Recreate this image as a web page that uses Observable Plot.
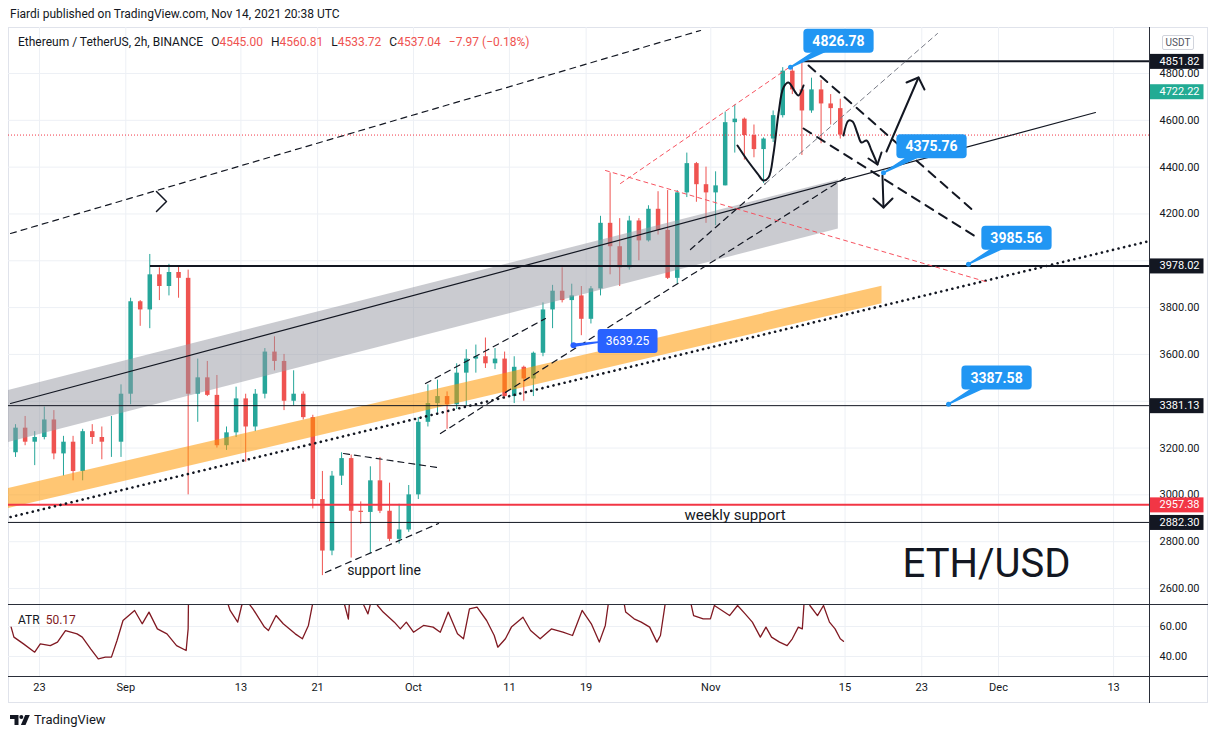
<!DOCTYPE html>
<html>
<head>
<meta charset="utf-8">
<script src="https://cdn.jsdelivr.net/npm/d3@7"></script>
<script src="https://cdn.jsdelivr.net/npm/@observablehq/plot@0.6"></script>
<style>
  html, body { margin: 0; padding: 0; background: #fff; }
  body { width: 1217px; height: 739px; position: relative; overflow: hidden; font-family: Roboto, "Liberation Sans", sans-serif; color: #131722; }
  .abs { position: absolute; }
  #hdr { left: 10px; top: 6px; font-size: 12px; line-height: 16px; white-space: nowrap; }
  #frame { left: 8px; top: 27px; width: 1200px; height: 676px; box-sizing: border-box; border: 1px solid #e0e3eb; }
  #price { left: 8px; top: 27px; }
  #atr { left: 8px; top: 604px; }
  .sep { background: #2a2e39; }
  #legend { left: 18px; top: 34px; font-size: 12px; line-height: 16px; white-space: nowrap; color: #131722; }
  #legend .v { color: #ef5350; }
  #legend .g { margin-left: 8px; }
  #atrlab { left: 18px; top: 612px; font-size: 12px; line-height: 16px; white-space: nowrap; }
  #atrlab .v { color: #801922; margin-left: 6px; }
  #usdt { left: 1162px; top: 35px; width: 32px; height: 15px; border: 1px solid #d1d4dc; border-radius: 2px; font-size: 10px; line-height: 13px; text-align: center; color: #50535e; box-sizing: border-box; background: #fff; }
  #footer { left: 10px; top: 712px; font-size: 13px; line-height: 16px; display: flex; align-items: center; gap: 4px; color: #131722; }
</style>
</head>
<body>
<div id="frame" class="abs"></div>
<div id="hdr" class="abs"></div>
<div id="price" class="abs"></div>
<div id="atr" class="abs"></div>
<div class="abs sep" style="left:1149px;top:27px;width:1px;height:676px"></div>
<div class="abs sep" style="left:8px;top:604px;width:1200px;height:1px"></div>
<div class="abs sep" style="left:8px;top:676px;width:1200px;height:1px"></div>
<div id="legend" class="abs"></div>
<div id="atrlab" class="abs"></div>
<div id="usdt" class="abs">USDT</div>
<div id="footer" class="abs"><svg width="20" height="12" viewBox="0 0 20 12"><path d="M0 1h8.5v10h-4V5H0z" fill="#131722"/><circle cx="11.3" cy="3" r="2" fill="#131722"/><path d="M15.2 1h4.6l-4.3 10h-4.6z" fill="#131722"/></svg><span>TradingView</span></div>
<script>
// ---------- texts ----------
const publishLine = "Fiardi published on TradingView.com, Nov 14, 2021 20:38 UTC";
const symbolLine = "Ethereum / TetherUS, 2h, BINANCE";
const ohlcKeys = ["O", "H", "L", "C"];
const ohlcVals = [4545.00, 4560.81, 4533.72, 4537.04];
const lastChange = -7.97, lastChangePct = -0.18;
const atrName = "ATR", atrLast = 50.17;

// ---------- time axis ----------
const dateTicks = ["2021-08-23","2021-09-01","2021-09-13","2021-09-21","2021-10-01","2021-10-11","2021-10-19","2021-11-01","2021-11-15","2021-11-23","2021-12-01","2021-12-13"];
const dateTickLabels = ["23","Sep","13","21","Oct","11","19","Nov","15","23","Dec","13"];
const priceGrid = [2600, 2800, 3000, 3200, 3400, 3600, 3800, 4000, 4200, 4400, 4600, 4800];
const priceTickLabels = [2600, 2800, 3000, 3200, 3600, 3800, 4200, 4400, 4600, 4800]; // 3400 and 4000 sit under the line tags
const atrTicks = [40, 60];

// ---------- daily OHLC (ETH/USDT) from Aug 20 to Nov 14 ----------
const candleStart = "2021-08-20", candleEnd = "2021-11-15";
const opens = [3180,3285,3225,3245,3320,3175,3225,3100,3270,3245,3225,3225,
  3430,3825,3790,3940,3890,3950,3925,3430,3500,3425,3210,3265,3410,3290,3430,3610,3570,3400,3430,3330,2980,2760,3080,3155,2930,2925,3060,2930,2810,2850,
  3000,3310,3390,3420,3385,3520,3580,3590,3560,3580,3420,3545,3495,3605,3790,3870,3830,3850,3750,3880,4160,4060,3970,4170,4085,4220,4130,3925,4290,4415,4325,
  4290,4320,4590,4605,4535,4475,4520,4620,4810,4730,4640,4730,4670,4650];
const highs = [3300,3335,3270,3375,3360,3250,3250,3280,3300,3290,3335,3470,
  3840,3830,4027,3970,3985,3975,3960,3580,3570,3510,3290,3460,3430,3450,3625,3675,3600,3530,3440,3340,3100,3100,3180,3170,2970,3120,3160,3050,2960,3040,
  3330,3470,3490,3440,3560,3620,3640,3670,3625,3610,3590,3550,3610,3820,3895,3970,3900,3890,3890,4190,4375,4180,4190,4180,4235,4295,4300,4300,4460,4420,4400,
  4380,4635,4665,4610,4580,4525,4640,4825,4827,4852,4780,4770,4710,4690];
const lows = [3160,3210,3125,3235,3150,3080,3060,3060,3215,3150,3160,3160,
  3385,3720,3710,3830,3850,3840,3000,3310,3420,3200,3190,3245,3140,3270,3410,3530,3360,3380,3320,2940,2655,2740,3040,2730,2875,2750,2920,2800,2790,2840,
  2980,3290,3350,3280,3365,3380,3520,3540,3535,3410,3390,3400,3420,3590,3710,3820,3640,3680,3730,3850,3940,3890,3960,4000,4080,4110,3920,3900,4270,4250,4160,
  4150,4320,4460,4430,4440,4330,4505,4610,4710,4450,4630,4500,4580,4520];
const closes = [3285,3225,3245,3320,3175,3225,3100,3270,3245,3225,3225,3430,
  3825,3790,3940,3890,3950,3925,3430,3500,3425,3210,3265,3410,3290,3430,3610,3570,3400,3430,3330,2980,2760,3080,3155,2930,2925,3060,2930,2810,2850,3000,
  3310,3390,3420,3385,3520,3580,3590,3560,3580,3420,3545,3495,3605,3790,3870,3830,3850,3750,3880,4160,4060,3970,4170,4085,4220,4130,3925,4290,4415,4325,4290,
  4320,4590,4605,4535,4475,4520,4620,4810,4730,4640,4730,4670,4650,4537.04];

// ---------- ATR(2h) ----------
const atrSeries = [
 ["2021-08-20T01:00Z",59.6],["2021-08-20T08:00Z",52.9],["2021-08-21T08:00Z",48.4],["2021-08-22T12:00Z",42.9],["2021-08-23T02:00Z",48.4],
 ["2021-08-24T03:00Z",47.3],["2021-08-24T21:00Z",49.6],["2021-08-25T17:00Z",57.3],["2021-08-26T22:00Z",55.1],["2021-08-27T11:00Z",52.9],
 ["2021-08-28T08:00Z",45.1],["2021-08-29T03:00Z",38.4],["2021-08-29T21:00Z",39.6],["2021-08-30T12:00Z",39.6],["2021-08-31T02:00Z",50.7],
 ["2021-08-31T17:00Z",64],["2021-09-01T22:00Z",70.7],["2021-09-02T17:00Z",61.8],["2021-09-03T10:00Z",69.6],["2021-09-04T07:00Z",58.4],
 ["2021-09-05T07:00Z",55.1],["2021-09-06T07:00Z",47.3],["2021-09-07T07:00Z",44],["2021-09-07T12:00Z",58.4],["2021-09-07T16:00Z",150],
 ["2021-09-08T12:00Z",125],["2021-09-09T12:00Z",100],["2021-09-10T12:00Z",85],["2021-09-11T12:00Z",78],["2021-09-11T21:00Z",70.7],
 ["2021-09-12T16:00Z",62.9],["2021-09-13T02:00Z",74],["2021-09-13T12:00Z",78],["2021-09-14T06:00Z",71.8],["2021-09-15T11:00Z",59.6],
 ["2021-09-15T21:00Z",57.3],["2021-09-16T16:00Z",67.3],["2021-09-17T10:00Z",61.8],["2021-09-18T16:00Z",55.1],["2021-09-19T10:00Z",51.8],
 ["2021-09-20T01:00Z",60.7],["2021-09-20T11:00Z",74.4],["2021-09-20T20:00Z",105],["2021-09-21T12:00Z",130],["2021-09-22T04:00Z",115],
 ["2021-09-22T20:00Z",95],["2021-09-23T12:00Z",82],["2021-09-23T20:00Z",74],["2021-09-24T05:00Z",65],["2021-09-24T10:00Z",85],
 ["2021-09-24T20:00Z",95],["2021-09-25T08:00Z",85],["2021-09-25T20:00Z",74],["2021-09-26T06:00Z",68.4],["2021-09-26T17:00Z",80],
 ["2021-09-27T06:00Z",74],["2021-09-27T20:00Z",69.6],["2021-09-29T00:00Z",62.9],["2021-09-29T15:00Z",58.4],["2021-09-30T06:00Z",62.9],
 ["2021-10-01T00:00Z",56.2],["2021-10-02T01:00Z",60.7],["2021-10-03T01:00Z",59.6],["2021-10-03T19:00Z",56.2],["2021-10-04T15:00Z",69.6],
 ["2021-10-05T14:00Z",55.1],["2021-10-06T05:00Z",51.8],["2021-10-06T20:00Z",71.8],["2021-10-07T15:00Z",72.9],["2021-10-08T15:00Z",64],
 ["2021-10-09T10:00Z",54],["2021-10-09T19:00Z",46.2],["2021-10-10T14:00Z",51.8],["2021-10-11T05:00Z",59.6],["2021-10-12T10:00Z",66.2],
 ["2021-10-13T05:00Z",57.3],["2021-10-14T05:00Z",51.8],["2021-10-15T09:00Z",58.4],["2021-10-16T14:00Z",56.2],["2021-10-17T14:00Z",54],
 ["2021-10-18T14:00Z",70.7],["2021-10-19T13:00Z",61.8],["2021-10-20T09:00Z",49.6],["2021-10-21T00:00Z",60.7],["2021-10-21T10:00Z",80],
 ["2021-10-21T20:00Z",110],["2021-10-22T08:00Z",95],["2021-10-22T20:00Z",80],["2021-10-23T03:00Z",69.6],["2021-10-24T00:00Z",65.1],
 ["2021-10-24T18:00Z",62.9],["2021-10-25T15:00Z",59.6],["2021-10-26T09:00Z",49.6],["2021-10-26T18:00Z",54],["2021-10-27T04:00Z",71.8],
 ["2021-10-27T14:00Z",90],["2021-10-28T04:00Z",100],["2021-10-28T16:00Z",95],["2021-10-29T06:00Z",85],["2021-10-29T20:00Z",78],
 ["2021-10-30T05:00Z",67.3],["2021-10-31T05:00Z",65.1],["2021-10-31T23:00Z",65.1],["2021-11-01T09:00Z",74],["2021-11-02T04:00Z",70.7],
 ["2021-11-02T23:00Z",67.3],["2021-11-03T19:00Z",74],["2021-11-04T14:00Z",68.4],["2021-11-05T08:00Z",62.9],["2021-11-06T04:00Z",52.9],
 ["2021-11-06T18:00Z",59.6],["2021-11-07T08:00Z",52.9],["2021-11-08T04:00Z",49.6],["2021-11-08T23:00Z",47.3],["2021-11-09T12:00Z",51.8],
 ["2021-11-10T03:00Z",59.6],["2021-11-10T13:00Z",58.4],["2021-11-10T18:00Z",78],["2021-11-11T00:00Z",85],["2021-11-11T08:00Z",74],
 ["2021-11-12T03:00Z",67.3],["2021-11-12T18:00Z",74],["2021-11-13T09:00Z",62.9],["2021-11-13T23:00Z",58.4],["2021-11-14T12:00Z",51.8],
 ["2021-11-14T20:00Z",50.17]
];

// ---------- drawings: [days since 2021-08-23 00:00 UTC, price] ----------
const upperTrend = [[-3.02, 4116.5], [68.93, 4983.7]];
const chevron = [[12.20, 4295.9], [13.24, 4253.2], [12.20, 4210.5]];
const midTrend = [[-3.02, 3390.3], [110.11, 4633.4]];
const dottedTrend = [[-3.02, 2905.4], [115.75, 4084.5]];
const greyBand = [[-3.3, 3223.0, 3445.1], [83.3, 4135.5, 4345.0]];     // [day, lower, upper]
const orangeBand = [[-3.3, 2941.1, 3026.6], [87.85, 3815.9, 3891.5]];
const octChannelTop = [[40.25, 3475.7], [52.76, 3753.4]];
const octChannelBottom = [[41.81, 3262.1], [84.05, 4355.7]];
const novSupportA = [[67.88, 4048.1], [75.70, 4330.1]];
const novSupportB = [[75.70, 4330.1], [93.64, 4970.9]];
const redFall = [[59.02, 4385.6], [98.64, 3911.4]];
const redRise = [[60.58, 4330.1], [78.31, 4829.9]];
const fallTop = [[80.19, 4834.2], [97.60, 4206.2]];
const fallBottom = [[79.67, 4565.0], [97.60, 4103.7]];
const wedgeTop = [[31.70, 3176.7], [41.50, 3116.9]];
const wedgeBottom = [[29.82, 2668.3], [41.61, 2877.6]];
const brushPeak = [[72.78,4492.4],[73.83,4428.3],[74.87,4372.8],[75.49,4342.9],[76.02,4355.7],[76.54,4458.2],[77.06,4629.1],[77.58,4740.2],[78.10,4761.6],[78.83,4718.8],[79.14,4706.0],[79.67,4748.7]];
const brushPath = [[83.84,4535.1],[84.36,4599.2],[84.78,4594.9],[85.30,4543.7],[85.71,4505.2],[86.24,4513.8],[86.76,4471.1],[87.38,4411.3]];
const brushPathHead = [[86.44,4436.9],[87.38,4411.3],[87.80,4462.5]];
const arrowUp = [[88.32,4466.8],[91.66,4782.9]];
const arrowUpHead = [[90.41,4761.6],[91.66,4782.9],[92.28,4731.7]];
const arrowDown = [[87.90,4364.3],[88.01,4227.6]];
const arrowDownHead = [[86.96,4266.0],[88.01,4227.6],[88.95,4266.0]];

// horizontal levels
const thickLevels = [{price: 4851.82, start: 79.56}, {price: 3978.02, start: 11.57}];
const thinLevels = [3381.13, 2882.30];
const supportLevel = 2957.38;
const lastClose = 4537.04;

// price notes (callouts)
const calloutDays = [78.31, 88.01, 96.87, 94.79];
const calloutPrices = [4826.78, 4375.76, 3985.56, 3387.58];
const markerDay = 55.68, markerPrice = 3639.25;

// text notes
const notes = [
  {text: "support line", day: 32.08, price: 2675},
  {text: "weekly support", day: 67.26, price: 2913},
  {text: "ETH/USD", day: 89.99, price: 2703}
];

// right-axis tags
const tagPrices = [4851.82, 4722.22, 3978.02, 3381.13, 2957.38, 2882.30];
const tagKinds = ["level", "indicator", "level", "level", "support", "level"];

// ---------- styles ----------
const INK = "#131722", UP = "#26a69a", DOWN = "#ef5350", BLUE = "#2196f3", DARKBLUE = "#2962ff";
const GRID = "#edf0f5", RED = "#f23645", ATRC = "#801922";
const tagColor = {level: "#131722", indicator: "#22ab94", support: "#f23645"};

// ---------- helpers ----------
const DAY = 864e5;
const T0 = Date.UTC(2021, 7, 23);
const dayToDate = d => new Date(T0 + d * DAY);
const xMin = dayToDate(-3.2326), xMax = dayToDate(115.7456);
const tickDates = dateTicks.map(s => new Date(s + "T00:00Z"));
const tickLabelMap = new Map(tickDates.map((d, i) => [+d, dateTickLabels[i]]));

const candleDays = d3.utcDays(new Date(candleStart + "T00:00Z"), new Date(candleEnd + "T00:00Z"));
const candles = candleDays.map((day, i) => ({
  mid: new Date(+day + DAY / 2), o: opens[i], h: highs[i], l: lows[i], c: closes[i],
  col: closes[i] >= opens[i] ? UP : DOWN
}));
const callouts = calloutDays.map((d, i) => ({date: dayToDate(d), price: calloutPrices[i]}));
const marker = [{date: dayToDate(markerDay), price: markerPrice}];
const atrData = atrSeries.map(([t, v]) => ({t: new Date(t), v}));

const L = (data, o) => Plot.line(data, {x: d => dayToDate(d[0]), y: d => d[1], clip: true, ...o});
const dash = {stroke: INK, strokeWidth: 1.2, strokeDasharray: "6 5"};
const brush = {stroke: INK, strokeWidth: 2, strokeLinecap: "round", strokeLinejoin: "round"};
const fmt2 = d => d.toFixed(2);

// ---------- HTML texts ----------
document.getElementById("hdr").textContent = publishLine;
const minus = v => (v < 0 ? "\u2212" : "") + Math.abs(v).toFixed(2);
document.getElementById("legend").innerHTML = symbolLine +
  ohlcKeys.map((k, i) => `<span class="g">${k}</span><span class="v">${ohlcVals[i].toFixed(2)}</span>`).join("") +
  `<span class="g v">${minus(lastChange)} (${minus(lastChangePct)}%)</span>`;
document.getElementById("atrlab").innerHTML = `${atrName}<span class="v">${atrLast.toFixed(2)}</span>`;

// ---------- price pane ----------
const price = Plot.plot({
  width: 1200, height: 577,
  marginLeft: 0, marginRight: 59, marginTop: 0, marginBottom: 0,
  x: {type: "utc", domain: [xMin, xMax], axis: null},
  y: {domain: [2531.7, 4996.5]},
  color: {type: "identity"},
  style: {background: "transparent", fontFamily: "Roboto, sans-serif", fontSize: "11px", color: INK, overflow: "visible"},
  marks: [
    Plot.gridY({ticks: priceGrid, stroke: GRID, strokeOpacity: 1}),
    Plot.gridX({ticks: tickDates, stroke: GRID, strokeOpacity: 1}),
    Plot.ruleX(candles, {x: "mid", y1: "l", y2: "h", stroke: "col", strokeWidth: 1, clip: true}),
    Plot.ruleX(candles, {x: "mid", y1: "o", y2: "c", stroke: "col", strokeWidth: 4.5, clip: true}),
    Plot.areaY(greyBand, {x: d => dayToDate(d[0]), y1: d => d[1], y2: d => d[2], fill: "#9598a1", fillOpacity: 0.5, clip: true}),
    Plot.areaY(orangeBand, {x: d => dayToDate(d[0]), y1: d => d[1], y2: d => d[2], fill: "#ff9800", fillOpacity: 0.55, clip: true}),
    Plot.ruleY(thinLevels, {stroke: INK, strokeWidth: 1}),
    Plot.ruleY([supportLevel], {stroke: RED, strokeWidth: 2}),
    Plot.ruleY([lastClose], {stroke: RED, strokeWidth: 1, strokeDasharray: "1 2"}),
    Plot.ruleY(thickLevels, {y: "price", x1: d => dayToDate(d.start), x2: () => xMax, stroke: INK, strokeWidth: 2}),
    L(upperTrend, dash),
    L(chevron, {stroke: INK, strokeWidth: 1.5}),
    L(midTrend, {stroke: INK, strokeWidth: 1.2}),
    L(dottedTrend, {stroke: INK, strokeWidth: 2.6, strokeDasharray: "0.1 5.6", strokeLinecap: "round"}),
    L(octChannelTop, dash),
    L(octChannelBottom, dash),
    L(novSupportA, dash),
    L(novSupportB, {stroke: "#787b86", strokeWidth: 1, strokeDasharray: "5 4"}),
    L(redFall, {stroke: "#f7525f", strokeWidth: 1, strokeDasharray: "4 4"}),
    L(redRise, {stroke: "#f7525f", strokeWidth: 1, strokeDasharray: "4 4"}),
    L(fallTop, {stroke: INK, strokeWidth: 2, strokeDasharray: "9 7"}),
    L(fallBottom, {stroke: INK, strokeWidth: 2, strokeDasharray: "9 7"}),
    L(wedgeTop, dash),
    L(wedgeBottom, dash),
    L(brushPeak, {...brush, curve: "catmull-rom"}),
    L(brushPath, {...brush, curve: "catmull-rom"}),
    L(brushPathHead, brush),
    L(arrowUp, brush),
    L(arrowUpHead, brush),
    L(arrowDown, brush),
    L(arrowDownHead, brush),
    Plot.text([notes[0]], {x: d => dayToDate(d.day), y: "price", text: "text", textAnchor: "start", fontSize: 14, fill: INK}),
    Plot.text([notes[1]], {x: d => dayToDate(d.day), y: "price", text: "text", textAnchor: "start", fontSize: 15, fill: INK}),
    Plot.text([notes[2]], {x: d => dayToDate(d.day), y: "price", text: "text", textAnchor: "start", fontSize: 40, fill: INK}),
    Plot.vector(callouts, {x: "date", y: "price", rotate: 241, length: 40, anchor: "end", shape: "spike", r: 3, fill: BLUE, stroke: BLUE}),
    Plot.dot(callouts, {x: "date", y: "price", r: 2.5, fill: BLUE}),
    Plot.text(callouts, {x: "date", y: "price", text: d => fmt2(d.price), dx: 48, dy: -26, fill: "white", fontSize: 14, fontWeight: "bold", ariaDescription: "callout"}),
    Plot.vector(marker, {x: "date", y: "price", rotate: 83, length: 28, anchor: "start", shape: "spike", r: 1, fill: DARKBLUE, stroke: DARKBLUE}),
    Plot.dot(marker, {x: "date", y: "price", r: 3, fill: DARKBLUE}),
    Plot.text(marker, {x: "date", y: "price", text: d => fmt2(d.price), dx: 54, dy: -4, fill: "white", fontSize: 12, ariaDescription: "marker"}),
    Plot.axisY({anchor: "right", ticks: priceTickLabels, tickSize: 0, tickPadding: 10, tickFormat: fmt2, fill: INK, fontSize: 11, label: null}),
    Plot.text(tagPrices, {y: d => d, text: d => fmt2(d), frameAnchor: "right", dx: 10, textAnchor: "start", fill: "white", fontSize: 11, ariaDescription: "tag"})
  ]
});
document.getElementById("price").append(price);

// ---------- ATR pane with date axis ----------
const atr = Plot.plot({
  width: 1200, height: 99,
  marginLeft: 0, marginRight: 59, marginTop: 0, marginBottom: 27,
  x: {type: "utc", domain: [xMin, xMax]},
  y: {domain: [26.667, 74.667]},
  style: {background: "transparent", fontFamily: "Roboto, sans-serif", fontSize: "11px", color: INK, overflow: "visible"},
  marks: [
    Plot.gridY({ticks: atrTicks, stroke: GRID, strokeOpacity: 1}),
    Plot.gridX({ticks: tickDates, stroke: GRID, strokeOpacity: 1}),
    Plot.line(atrData, {x: "t", y: "v", stroke: ATRC, strokeWidth: 1.3, clip: true}),
    Plot.axisY({anchor: "right", ticks: atrTicks, tickSize: 0, tickPadding: 10, tickFormat: fmt2, fill: INK, fontSize: 11, label: null}),
    Plot.axisX({anchor: "bottom", ticks: tickDates, tickSize: 0, tickPadding: 7, tickFormat: d => tickLabelMap.get(+d), fill: INK, fontSize: 11, label: null})
  ]
});
document.getElementById("atr").append(atr);

// ---------- label boxes behind texts ----------
function boxes(svg, label, fills, o) {
  svg.querySelectorAll(`g[aria-description="${label}"] text`).forEach((t, i) => {
    const b = t.getBBox();
    const r = document.createElementNS("http://www.w3.org/2000/svg", "rect");
    const w = o.w != null ? o.w : b.width + o.left + o.right;
    r.setAttribute("x", b.x - o.left);
    r.setAttribute("y", b.y + b.height / 2 - o.h / 2);
    r.setAttribute("width", w);
    r.setAttribute("height", o.h);
    r.setAttribute("rx", o.rx);
    r.setAttribute("fill", fills[i % fills.length]);
    const tr = t.getAttribute("transform");
    if (tr) r.setAttribute("transform", tr);
    t.parentNode.insertBefore(r, t);
  });
}
boxes(price, "tag", tagKinds.map(k => tagColor[k]), {left: 10, w: 54, h: 15, rx: 0});
boxes(price, "callout", [BLUE], {left: 9, right: 9, h: 24, rx: 4});
boxes(price, "marker", [DARKBLUE], {left: 8, right: 8, h: 24, rx: 3});
</script>
</body>
</html>
